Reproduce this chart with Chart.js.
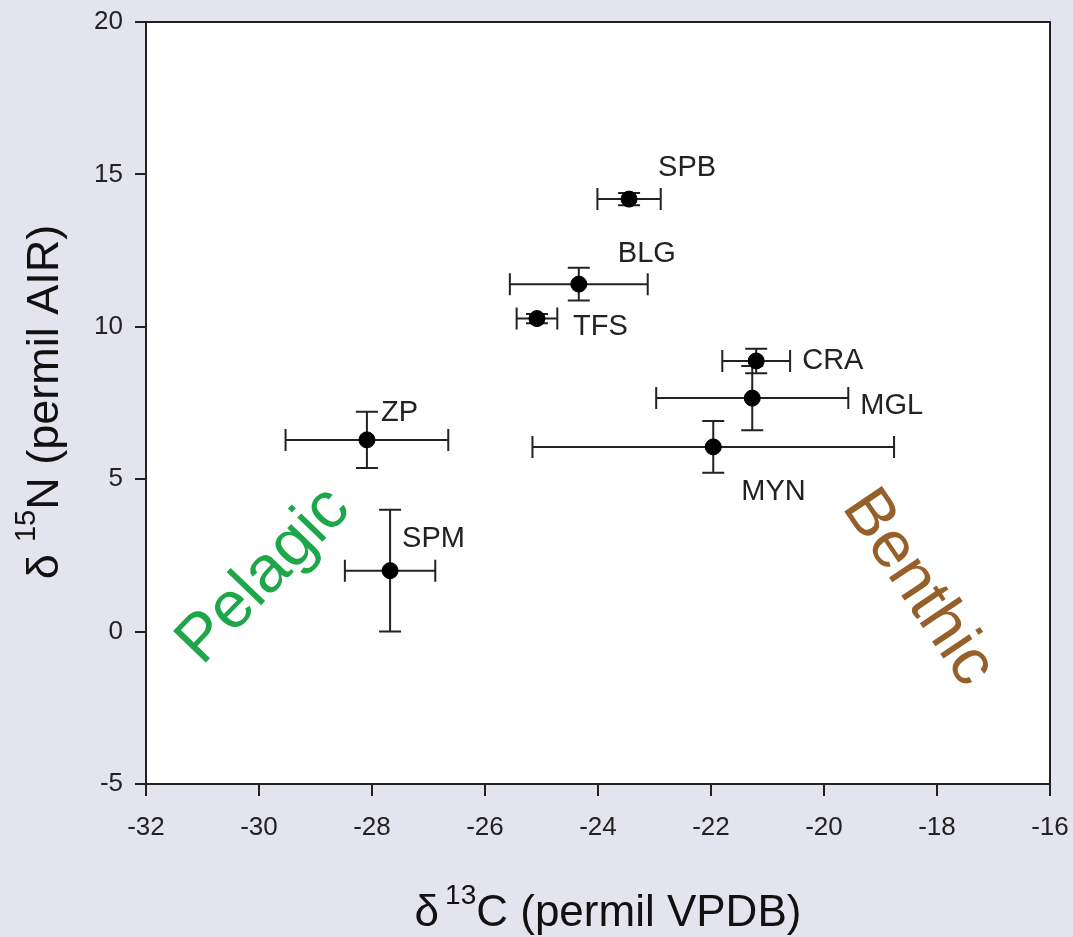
<!DOCTYPE html>
<html>
<head>
<meta charset="utf-8">
<script src="https://cdn.jsdelivr.net/npm/chart.js@4.4.0/dist/chart.umd.min.js"></script>
<style>
  html, body { margin: 0; padding: 0; background: #e4e4ee; }
  #wrap { width: 1073px; height: 937px; }
</style>
</head>
<body>
<div id="wrap"><canvas id="myChart" width="1073" height="937"></canvas></div>
<script>
// groups and their isotope means / standard deviations
const codes = ['SPM', 'ZP', 'TFS', 'BLG', 'SPB', 'CRA', 'MGL', 'MYN'];
const d13C = [-27.68, -28.09, -25.08, -24.34, -23.45, -21.2, -21.27, -21.96];
const d15N = [2.0, 6.29, 10.27, 11.4, 14.19, 8.88, 7.66, 6.06];
const sdC = [0.8, 1.44, 0.36, 1.22, 0.56, 0.6, 1.7, 3.2];
const sdN = [2.0, 0.92, 0.15, 0.54, 0.2, 0.4, 1.05, 0.85];
const xTicks = [-32, -30, -28, -26, -24, -22, -20, -18, -16];
const yTicks = [-5, 0, 5, 10, 15, 20];

// label placement relative to the point (px), left edge / vertical centre
const labelOffsets = [[12, -32], [14, -27], [36, 8], [39, -30], [29, -31], [46, 0], [108, 8], [28, 45]];

const ink = '#222';
const font = 'Liberation Sans, Arial, sans-serif';

const annot = {
  id: 'annot',
  beforeDatasetsDraw(chart) {
    const ctx = chart.ctx, xs = chart.scales.x, ys = chart.scales.y;
    const cap = 11;
    ctx.save();
    ctx.strokeStyle = ink;
    ctx.lineWidth = 2;
    for (let i = 0; i < codes.length; i++) {
      const x0 = xs.getPixelForValue(d13C[i] - sdC[i]);
      const x1 = xs.getPixelForValue(d13C[i] + sdC[i]);
      const y0 = ys.getPixelForValue(d15N[i] - sdN[i]);
      const y1 = ys.getPixelForValue(d15N[i] + sdN[i]);
      const px = xs.getPixelForValue(d13C[i]);
      const py = ys.getPixelForValue(d15N[i]);
      ctx.beginPath();
      ctx.moveTo(x0, py); ctx.lineTo(x1, py);
      ctx.moveTo(x0, py - cap); ctx.lineTo(x0, py + cap);
      ctx.moveTo(x1, py - cap); ctx.lineTo(x1, py + cap);
      ctx.moveTo(px, y0); ctx.lineTo(px, y1);
      ctx.moveTo(px - cap, y0); ctx.lineTo(px + cap, y0);
      ctx.moveTo(px - cap, y1); ctx.lineTo(px + cap, y1);
      ctx.stroke();
    }
    ctx.restore();
  },
  afterDraw(chart) {
    const ctx = chart.ctx, xs = chart.scales.x, ys = chart.scales.y;
    const a = chart.chartArea;
    ctx.save();
    // frame
    ctx.strokeStyle = ink;
    ctx.lineWidth = 2;
    ctx.strokeRect(a.left, a.top, a.right - a.left, a.bottom - a.top);

    // point labels
    ctx.fillStyle = ink;
    ctx.font = '29px ' + font;
    ctx.textAlign = 'left';
    ctx.textBaseline = 'middle';
    codes.forEach((c, i) => {
      const px = xs.getPixelForValue(d13C[i]);
      const py = ys.getPixelForValue(d15N[i]);
      ctx.fillText(c, px + labelOffsets[i][0], py + labelOffsets[i][1]);
    });

    // axis titles with superscripts
    function title(parts, cx, cy, rot) {
      ctx.save();
      ctx.translate(cx, cy);
      ctx.rotate(rot);
      ctx.textBaseline = 'alphabetic';
      ctx.textAlign = 'left';
      let total = 0;
      parts.forEach(p => { ctx.font = p.size + 'px ' + font; total += ctx.measureText(p.t).width + (p.gap || 0); });
      let x = -total / 2;
      parts.forEach(p => {
        ctx.font = p.size + 'px ' + font;
        ctx.fillText(p.t, x, -(p.rise || 0));
        x += ctx.measureText(p.t).width + (p.gap || 0);
      });
      ctx.restore();
    }
    ctx.fillStyle = '#111';
    title([{ t: 'δ', size: 44, gap: 6 }, { t: '13', size: 28, rise: 22 }, { t: 'C (permil VPDB)', size: 44 }], 608, 926, 0);
    title([{ t: 'δ', size: 45, gap: 12 }, { t: '15', size: 29, rise: 23 }, { t: 'N (permil AIR)', size: 45 }], 58, 402, -Math.PI / 2);

    // zone annotations
    ctx.textAlign = 'center';
    ctx.textBaseline = 'middle';
    ctx.font = '66px ' + font;
    ctx.save();
    ctx.translate(264, 576);
    ctx.rotate(-46 * Math.PI / 180);
    ctx.fillStyle = '#1ea64a';
    ctx.fillText('Pelagic', 0, 0);
    ctx.restore();
    ctx.save();
    ctx.translate(918, 588);
    ctx.rotate(56 * Math.PI / 180);
    ctx.fillStyle = '#96602a';
    ctx.fillText('Benthic', 0, 0);
    ctx.restore();
    ctx.restore();
  }
};

const bg = {
  id: 'bg',
  beforeDraw(chart) {
    const ctx = chart.ctx, a = chart.chartArea;
    ctx.save();
    ctx.fillStyle = '#e4e4ee';
    ctx.fillRect(0, 0, chart.width, chart.height);
    ctx.fillStyle = '#ffffff';
    ctx.fillRect(a.left, a.top, a.right - a.left, a.bottom - a.top);
    ctx.restore();
  }
};

const ctx = document.getElementById('myChart').getContext('2d');
new Chart(ctx, {
  type: 'scatter',
  data: {
    datasets: [{
      data: codes.map((c, i) => ({ x: d13C[i], y: d15N[i] })),
      backgroundColor: '#000',
      borderColor: '#000',
      pointRadius: 8,
      pointHoverRadius: 8
    }]
  },
  options: {
    responsive: false,
    animation: false,
    layout: { padding: { left: 0, right: 23, top: 22, bottom: 0 } },
    plugins: { legend: { display: false }, tooltip: { enabled: false } },
    scales: {
      x: {
        type: 'linear', min: -32, max: -16,
        afterBuildTicks: s => { s.ticks = xTicks.map(v => ({ value: v })); },
        afterFit: s => { s.height = 153; s.paddingLeft = 0; s.paddingRight = 0; },
        grid: { display: true, drawOnChartArea: false, drawTicks: true, tickLength: 12, color: ink, lineWidth: 2 },
        border: { display: true, color: ink, width: 2 },
        ticks: { color: ink, font: { family: font, size: 26 }, padding: 16, maxRotation: 0 }
      },
      y: {
        type: 'linear', min: -5, max: 20,
        afterBuildTicks: s => { s.ticks = yTicks.map(v => ({ value: v })); },
        afterFit: s => { s.width = 146; s.paddingTop = 0; s.paddingBottom = 0; },
        grid: { display: true, drawOnChartArea: false, drawTicks: true, tickLength: 11, color: ink, lineWidth: 2 },
        border: { display: true, color: ink, width: 2 },
        ticks: { color: ink, font: { family: font, size: 26 }, padding: 12 }
      }
    }
  },
  plugins: [bg, annot]
});
</script>
</body>
</html>
